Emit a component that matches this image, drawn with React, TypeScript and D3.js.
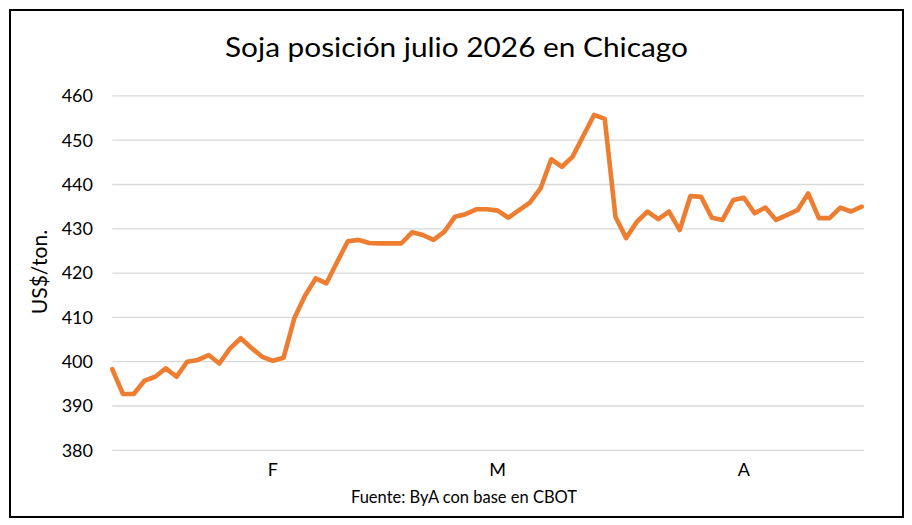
import React, { useEffect, useRef } from "react";
import * as d3 from "d3";

const title = "Soja posición julio 2026 en Chicago";
const yAxisTitle = "US$/ton.";
const sourceText = "Fuente: ByA con base en CBOT";

// daily prices, US$/ton
const prices: number[] = [
  398.3, 392.7, 392.7, 395.7, 396.6, 398.5, 396.6, 400.0, 400.4, 401.5,
  399.6, 403.0, 405.3, 403.1, 401.1, 400.2, 400.9, 409.8, 414.9, 418.8,
  417.7, 422.5, 427.2, 427.5, 426.8, 426.7, 426.7, 426.7, 429.2, 428.6,
  427.5, 429.3, 432.7, 433.3, 434.4, 434.4, 434.1, 432.5, 434.2, 435.9,
  439.1, 445.7, 444.0, 446.3, 451.0, 455.7, 454.8, 432.7, 427.9, 431.6,
  433.9, 432.2, 433.9, 429.7, 437.4, 437.2, 432.5, 432.0, 436.5, 437.0,
  433.5, 434.8, 432.0, 433.1, 434.2, 438.0, 432.4, 432.4, 434.8, 433.9,
  435.0,
];

// month labels and the index of the day they sit on
const monthLabels: string[] = ["F", "M", "A"];
const monthIndex: number[] = [15, 36, 59];

const yTicks: number[] = [380, 390, 400, 410, 420, 430, 440, 450, 460];

const W = 912;
const H = 525;
const FONT = "Lato, 'Open Sans', 'Liberation Sans', sans-serif";

export default function App() {
  const ref = useRef<SVGSVGElement | null>(null);

  useEffect(() => {
    const svg = d3.select(ref.current);
    svg.selectAll("*").remove();

    const left = 112.3;
    const right = 861.7;
    const top = 95.9;
    const bottom = 450.3;

    const x = d3.scaleLinear().domain([0, prices.length - 1]).range([left, right]);
    const y = d3.scaleLinear().domain([380, 460]).range([bottom, top]);

    svg.append("rect").attr("x", 0).attr("y", 0).attr("width", W).attr("height", H).attr("fill", "#fff");
    svg
      .append("rect")
      .attr("x", 10)
      .attr("y", 10)
      .attr("width", 893)
      .attr("height", 507)
      .attr("fill", "#fff")
      .attr("stroke", "#000")
      .attr("stroke-width", 2);

    svg
      .append("text")
      .attr("x", 456.5)
      .attr("y", 57)
      .attr("text-anchor", "middle")
      .attr("font-family", FONT)
      .attr("font-size", 27)
      .attr("fill", "#000")
      .attr("textLength", 463)
      .attr("lengthAdjust", "spacingAndGlyphs")
      .text(title);

    // gridlines
    svg
      .append("g")
      .selectAll("line")
      .data(yTicks)
      .join("line")
      .attr("x1", left)
      .attr("x2", 864)
      .attr("y1", (d) => y(d))
      .attr("y2", (d) => y(d))
      .attr("stroke", "#d9d9d9")
      .attr("stroke-width", 1.3);

    // y tick labels
    svg
      .append("g")
      .selectAll("text")
      .data(yTicks)
      .join("text")
      .attr("x", 93)
      .attr("y", (d) => y(d))
      .attr("dy", "0.35em")
      .attr("text-anchor", "end")
      .attr("font-family", FONT)
      .attr("font-size", 18)
      .attr("fill", "#000")
      .text((d) => String(d));

    // y axis title
    svg
      .append("text")
      .attr("transform", `translate(47,272) rotate(-90)`)
      .attr("text-anchor", "middle")
      .attr("font-family", FONT)
      .attr("font-size", 21)
      .attr("fill", "#000")
      .text(yAxisTitle);

    // x labels
    svg
      .append("g")
      .selectAll("text")
      .data(monthLabels)
      .join("text")
      .attr("x", (_d, i) => x(monthIndex[i]))
      .attr("y", 476)
      .attr("text-anchor", "middle")
      .attr("font-family", FONT)
      .attr("font-size", 18)
      .attr("fill", "#000")
      .text((d) => d);

    // source
    svg
      .append("text")
      .attr("x", 464)
      .attr("y", 503)
      .attr("text-anchor", "middle")
      .attr("font-family", FONT)
      .attr("font-size", 16.5)
      .attr("fill", "#000")
      .text(sourceText);

    const line = d3
      .line<number>()
      .x((_d, i) => x(i))
      .y((d) => y(d));

    svg
      .append("path")
      .datum(prices)
      .attr("d", line)
      .attr("fill", "none")
      .attr("stroke", "#ED7D31")
      .attr("stroke-width", 4.6)
      .attr("stroke-linejoin", "round")
      .attr("stroke-linecap", "round");
  }, []);

  return (
    <svg
      ref={ref}
      width={W}
      height={H}
      style={{ position: "absolute", left: 0, top: 0, display: "block" }}
    />
  );
}
